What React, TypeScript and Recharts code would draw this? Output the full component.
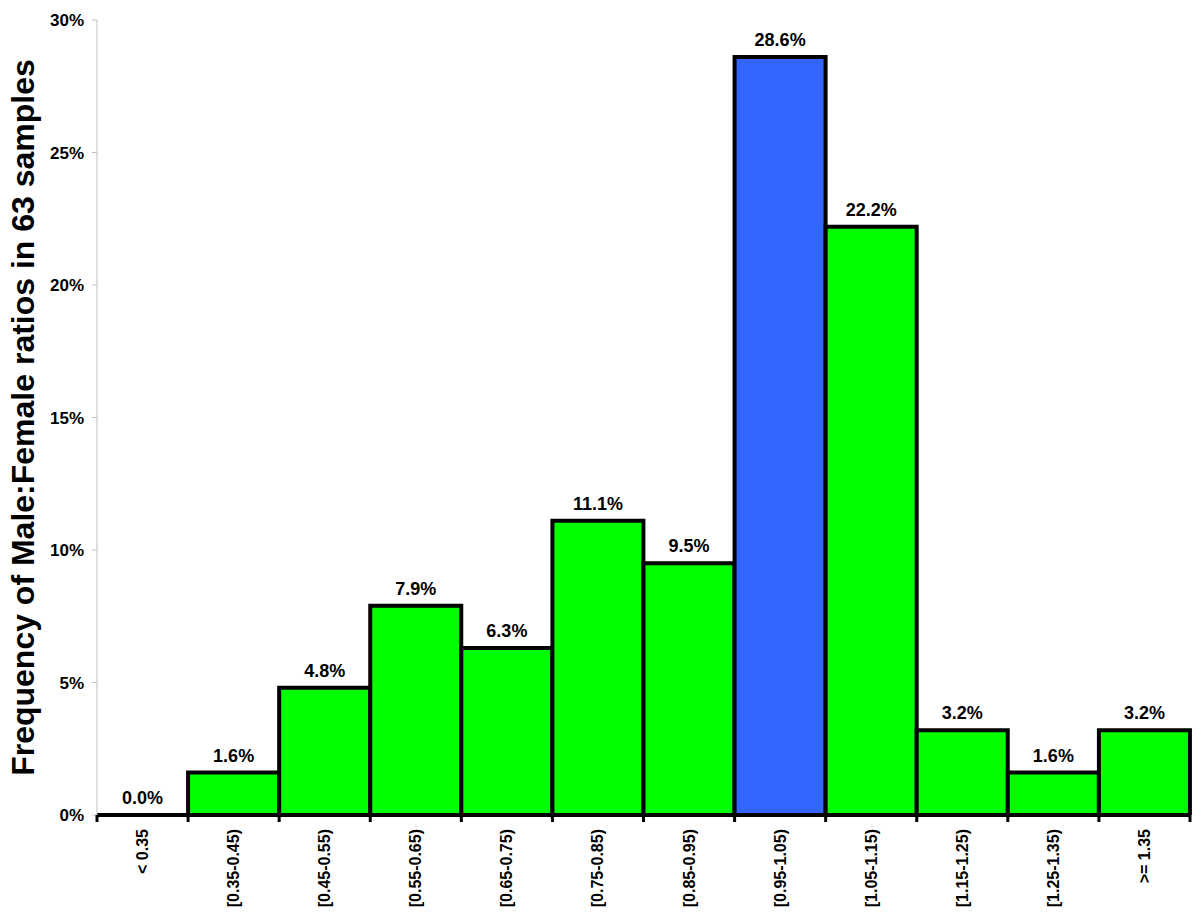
import { Bar, Cell, ComposedChart, LabelList, Line, XAxis, YAxis, Label } from 'recharts'

const bins = [
  '< 0.35',
  '[0.35-0.45)',
  '[0.45-0.55)',
  '[0.55-0.65)',
  '[0.65-0.75)',
  '[0.75-0.85)',
  '[0.85-0.95)',
  '[0.95-1.05)',
  '[1.05-1.15)',
  '[1.15-1.25)',
  '[1.25-1.35)',
  '>= 1.35',
]
const frequency = [0, 1.6, 4.8, 7.9, 6.3, 11.1, 9.5, 28.6, 22.2, 3.2, 1.6, 3.2]
const highlightBin = '[0.95-1.05)'
const yTicks = [0, 5, 10, 15, 20, 25, 30]

const data = bins.map((bin, i) => ({ bin, freq: frequency[i] }))

const FONT = '"Liberation Sans", Arial, sans-serif'
const CHART_W = 1200
const PLOT_LEFT = 97
const PLOT_RIGHT = 10
const bandWidth = (CHART_W - PLOT_LEFT - PLOT_RIGHT) / bins.length

function BinTick(props: any) {
  const { x, y, payload, index } = props
  const axisY = y - 14
  const left = x - bandWidth / 2
  const right = x + bandWidth / 2
  const ty = axisY + 14
  return (
    <g>
      <line x1={left} y1={axisY} x2={left} y2={axisY + 7} stroke='#000' strokeWidth={3} />
      {index === bins.length - 1 && (
        <line x1={right} y1={axisY} x2={right} y2={axisY + 7} stroke='#000' strokeWidth={3} />
      )}
      <text
        x={x}
        y={ty}
        transform={`rotate(-90, ${x}, ${ty})`}
        textAnchor='end'
        dominantBaseline='central'
        fontFamily={FONT}
        fontWeight='bold'
        fontSize={16}
        fill='#000'
      >
        {payload.value}
      </text>
    </g>
  )
}

export default function App() {
  return (
    <div style={{ position: 'absolute', left: 0, top: 0, background: '#fff' }}>
      <ComposedChart
        width={CHART_W}
        height={924}
        data={data}
        margin={{ top: 20, right: PLOT_RIGHT, left: 37, bottom: 9 }}
        barCategoryGap={0}
      >
        <XAxis
          dataKey='bin'
          interval={0}
          height={100}
          stroke='#000'
          strokeWidth={4}
          tickLine={false}
          tickSize={6}
          tickMargin={8}
          tick={<BinTick />}
        />
        <YAxis
          width={60}
          domain={[0, 30]}
          ticks={yTicks}
          allowDataOverflow
          stroke='#c0c0c0'
          tickSize={5}
          tickMargin={8}
          tickFormatter={(v: number) => `${v}%`}
          tick={{ fill: '#000', fontSize: 17, fontWeight: 'bold', fontFamily: FONT }}
        >
          <Label
            content={(p: any) => {
              const vb = p.viewBox
              const cx = vb.x - 14
              const cy = vb.y + vb.height / 2
              return (
                <text
                  x={cx}
                  y={cy}
                  transform={`rotate(-90, ${cx}, ${cy})`}
                  textAnchor='middle'
                  dominantBaseline='central'
                  fontFamily={FONT}
                  fontWeight='bold'
                  fontSize={32}
                  fill='#000'
                >
                  Frequency of Male:Female ratios in 63 samples
                </text>
              )
            }}
          />
        </YAxis>
        <Bar dataKey='freq' stroke='#000' strokeWidth={4} isAnimationActive={false}>
          {data.map((d) => (
            <Cell key={d.bin} fill={d.bin === highlightBin ? '#3366ff' : '#00ff00'} />
          ))}
        </Bar>
        <Line
          dataKey='freq'
          stroke='none'
          dot={false}
          activeDot={false}
          legendType='none'
          isAnimationActive={false}
        >
          <LabelList
            dataKey='freq'
            position='top'
            offset={11}
            formatter={(v: any) => `${Number(v).toFixed(1)}%`}
            style={{ fill: '#000', fontSize: 18, fontWeight: 'bold', fontFamily: FONT }}
          />
        </Line>
      </ComposedChart>
    </div>
  )
}
